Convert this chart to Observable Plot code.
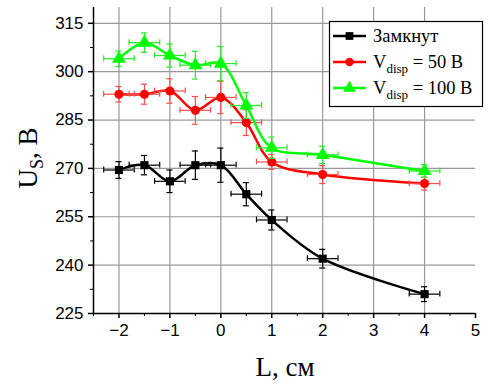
<!DOCTYPE html>
<html>
<head>
<meta charset="utf-8">
<script src="https://cdn.jsdelivr.net/npm/d3@7"></script>
<script src="https://cdn.jsdelivr.net/npm/@observablehq/plot@0.6"></script>
<style>
  html, body { margin: 0; padding: 0; background: #fff; }
  #chart { width: 488px; height: 385px; }
</style>
</head>
<body>
<div id="chart"></div>
<script>
const L = [-2, -1.5, -1, -0.5, 0, 0.5, 1, 2, 4];
const xErr = 0.3;
const closedU = [269.5, 271, 266, 271, 271, 262, 254, 242, 231];
const closedErr = [2.6, 3, 3.5, 4.4, 5.3, 3.6, 3.1, 2.9, 2.3];
const v50U = [293, 293, 294, 288, 292, 284.2, 272, 268.1, 265.3];
const v50Err = [2.4, 3.1, 3.8, 4.3, 5, 4, 2.3, 2.8, 2];
const v100U = [304, 309, 305, 302, 302.5, 289.5, 276.4, 274.2, 269.2];
const v100Err = [2.4, 3, 3.6, 4.3, 5.3, 4, 3.3, 2.7, 2];
const xTicks = [-2, -1, 0, 1, 2, 3, 4, 5];
const yTicks = [225, 240, 255, 270, 285, 300, 315];
const seriesNames = ["Замкнут", "V_disp = 50 В", "V_disp = 100 В"];

const series = [
  {name: seriesNames[0], y: closedU, e: closedErr, color: "#000000", bar: "#000000", symbol: "square", r: 4.6},
  {name: seriesNames[1], y: v50U, e: v50Err, color: "#ff0000", bar: "#ff4d4d", symbol: "circle", r: 4.6},
  {name: seriesNames[2], y: v100U, e: v100Err, color: "#00ff00", bar: "#22ee22", symbol: "triangle", r: 5.2}
];

const capX = 0.06; // half cap width in x units
const capY = 0.9;  // half cap height in y units

const marks = [
  Plot.gridX(xTicks.filter(d => d < 5), {stroke: "#999", strokeOpacity: 1, strokeWidth: 1.2}),
  Plot.gridY(yTicks, {stroke: "#999", strokeOpacity: 1, strokeWidth: 1.2}),
];

for (const s of series) {
  const rows = L.map((x, i) => ({x, y: s.y[i], e: s.e[i]}));
  marks.push(
    Plot.line(rows, {x: "x", y: "y", stroke: s.color, strokeWidth: 2.5, curve: "catmull-rom"}),
    Plot.ruleX(rows, {x: "x", y1: d => d.y - d.e, y2: d => d.y + d.e, stroke: s.bar, strokeWidth: 1.2}),
    Plot.ruleY(rows, {y: d => d.y - d.e, x1: d => d.x - capX, x2: d => d.x + capX, stroke: s.bar, strokeWidth: 1.2}),
    Plot.ruleY(rows, {y: d => d.y + d.e, x1: d => d.x - capX, x2: d => d.x + capX, stroke: s.bar, strokeWidth: 1.2}),
    Plot.ruleY(rows, {y: "y", x1: d => d.x - xErr, x2: d => d.x + xErr, stroke: s.bar, strokeWidth: 1.2}),
    Plot.ruleX(rows, {x: d => d.x - xErr, y1: d => d.y - capY, y2: d => d.y + capY, stroke: s.bar, strokeWidth: 1.2}),
    Plot.ruleX(rows, {x: d => d.x + xErr, y1: d => d.y - capY, y2: d => d.y + capY, stroke: s.bar, strokeWidth: 1.2}),
    Plot.dot(rows, {x: "x", y: "y", symbol: () => s.symbol, r: s.r, fill: s.color, stroke: "none"})
  );
}

marks.push(
  Plot.axisX(xTicks, {tickSize: 5, tickPadding: 5, fontSize: 17, fontFamily: "Liberation Sans, Arial, sans-serif", label: null, stroke: "#000", strokeWidth: 1.5}),
  Plot.axisX(d3.range(-2.5, 5, 0.5).filter(d => !Number.isInteger(d)), {tickSize: 3, text: null, label: null, stroke: "#000"}),
  Plot.axisY(yTicks, {tickSize: 5, tickPadding: 5, fontSize: 17, fontFamily: "Liberation Sans, Arial, sans-serif", label: null, stroke: "#000", strokeWidth: 1.5}),
  Plot.axisY(d3.range(232.5, 320, 15), {tickSize: 3, text: null, label: null, stroke: "#000"}),
  Plot.ruleX([-2.5], {stroke: "#000", strokeWidth: 1.5}),
  Plot.ruleY([225], {stroke: "#000", strokeWidth: 1.5})
);

const chart = Plot.plot({
  width: 488,
  height: 385,
  marginLeft: 93,
  marginRight: 13,
  marginTop: 7,
  marginBottom: 72,
  x: {domain: [-2.5, 5]},
  y: {domain: [225, 319.9]},
  style: {background: "#fff", color: "#000", fontFamily: "Liberation Sans, Arial, sans-serif"},
  marks
});

document.getElementById("chart").appendChild(chart);

const svg = d3.select(chart);
const serif = "Liberation Serif, Times New Roman, serif";

// Axis titles
const yt = svg.append("text")
  .attr("transform", "translate(37,158) rotate(-90)")
  .attr("text-anchor", "middle")
  .attr("font-family", serif)
  .attr("font-size", 27)
  .attr("fill", "#000");
yt.append("tspan").text("U");
yt.append("tspan").attr("font-size", 18).attr("dy", 6).text("S");
yt.append("tspan").attr("dy", -6).text(", В");

svg.append("text")
  .attr("x", 285).attr("y", 376)
  .attr("text-anchor", "middle")
  .attr("font-family", serif)
  .attr("font-size", 27)
  .attr("fill", "#000")
  .text("L, см");

// Legend
const lg = svg.append("g");
lg.append("rect").attr("x", 329.5).attr("y", 21.5).attr("width", 153).attr("height", 85)
  .attr("fill", "#fff").attr("stroke", "#000").attr("stroke-width", 1.2);
const rowsY = [36, 62, 88];
series.forEach((s, i) => {
  const yy = rowsY[i];
  lg.append("line").attr("x1", 333).attr("x2", 366).attr("y1", yy).attr("y2", yy)
    .attr("stroke", s.color).attr("stroke-width", 2.5);
  const sym = s.symbol === "square" ? d3.symbolSquare : s.symbol === "circle" ? d3.symbolCircle : d3.symbolTriangle;
  const size = s.symbol === "triangle" ? 70 : s.symbol === "square" ? 60 : 55;
  lg.append("path").attr("d", d3.symbol(sym, size)()).attr("transform", `translate(349.5,${yy})`).attr("fill", s.color);
  const t = lg.append("text").attr("x", 373).attr("y", yy + 6)
    .attr("text-anchor", "start")
    .attr("font-family", serif).attr("font-size", 18.5).attr("fill", "#000");
  const parts = s.name.split("_");
  if (parts.length === 1) {
    t.text(s.name);
  } else {
    const [sub, rest] = parts[1].split(/ (.*)/s);
    t.append("tspan").text(parts[0]);
    t.append("tspan").attr("font-size", 13).attr("dy", 5).text(sub);
    t.append("tspan").attr("dy", -5).text(" " + rest);
  }
});
</script>
</body>
</html>
